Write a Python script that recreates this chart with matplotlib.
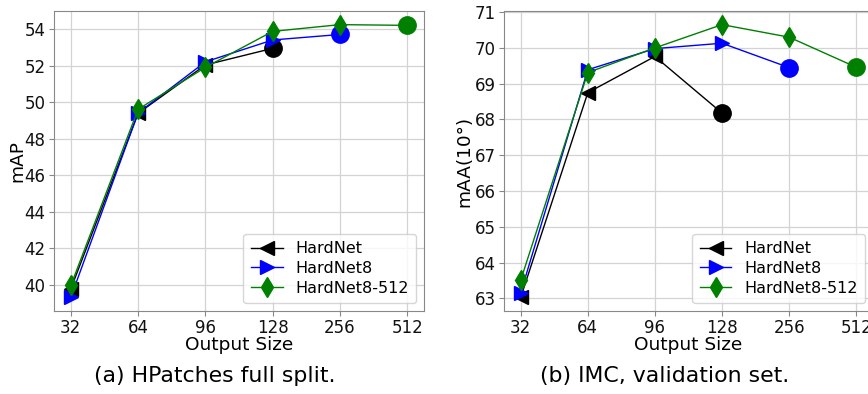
import matplotlib.pyplot as plt
import numpy as np

# output sizes (categorical x axis)
sizes = ['32', '64', '96', '128', '256', '512']
names = ['HardNet', 'HardNet8', 'HardNet8-512']

# HPatches full split, mAP
hp_hardnet = [39.76, 49.38, 52.03, 52.94]
hp_hardnet8 = [39.30, 49.40, 52.20, 53.40, 53.70]
hp_hardnet8_512 = [39.95, 49.60, 51.90, 53.87, 54.24, 54.20]

# IMC validation set, mAA(10°)
imc_hardnet = [63.03, 68.75, 69.76, 68.18]
imc_hardnet8 = [63.16, 69.39, 69.98, 70.13, 69.45]
imc_hardnet8_512 = [63.51, 69.31, 70.00, 70.65, 70.30, 69.46]

colors = ['black', 'blue', 'green']
markers = ['<', '>', 'd']

fig = plt.figure(figsize=(8.68, 3.94), dpi=100)
ax1 = fig.add_axes([0.0622, 0.2107, 0.4263, 0.7614])
ax2 = fig.add_axes([0.5806, 0.2107, 0.4251, 0.7614])


def draw(ax, series, ylabel, yticks, ypad):
    for vals, c, m, n in zip(series, colors, markers, names):
        x = np.arange(len(vals))
        ax.plot(x, vals, color=c, marker=m, markersize=10, linewidth=1,
                markevery=list(range(len(vals) - 1)), label=n)
        # last point is shown as a big dot
        ax.plot(x[-1], vals[-1], 'o', color=c, markersize=12.5)
    ax.set_xticks(np.arange(len(sizes)))
    ax.set_xticklabels(sizes)
    ax.set_yticks(yticks)
    ax.grid(True, color='#d3d3d3', linewidth=0.9)
    ax.set_axisbelow(True)
    for s in ax.spines.values():
        s.set_color('#888888')
    ax.tick_params(colors='#888888', labelcolor='#111111', labelsize=12, length=3.5, pad=2.5)
    ax.set_xlabel('Output Size', fontsize=13.3, labelpad=-1)
    ax.set_ylabel(ylabel, fontsize=13.3, labelpad=ypad)
    ax.legend(loc='lower right', fontsize=11.5, borderpad=0.45, handlelength=2.0,
              labelspacing=0.3, borderaxespad=0.5)


draw(ax1, [hp_hardnet, hp_hardnet8, hp_hardnet8_512], 'mAP', np.arange(40, 55, 2), -1)
draw(ax2, [imc_hardnet, imc_hardnet8, imc_hardnet8_512], 'mAA(10°)', np.arange(63, 72, 1), 1)

fig.text(215 / 868, 1 - 376 / 394, '(a) HPatches full split.', ha='center', va='center', fontsize=15.8)
fig.text(665 / 868, 1 - 376 / 394, '(b) IMC, validation set.', ha='center', va='center', fontsize=15.8)

fig.savefig('out.png', dpi=100)
